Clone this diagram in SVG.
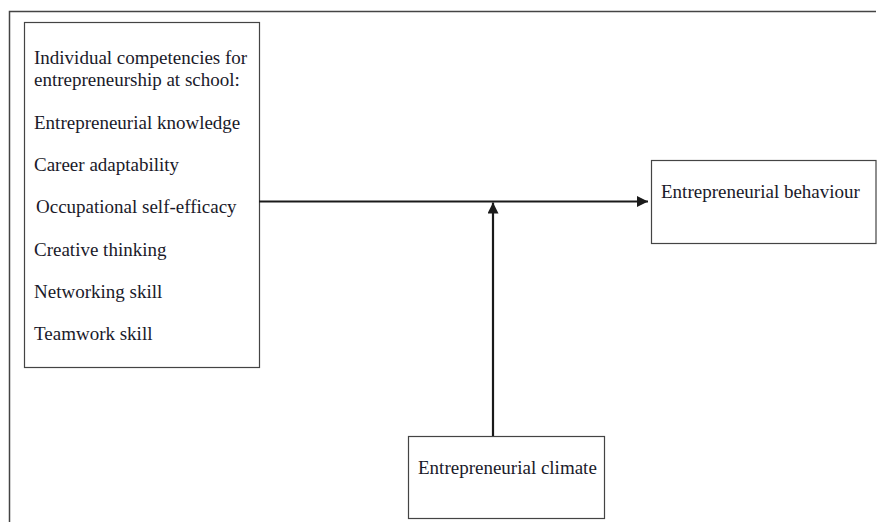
<svg xmlns="http://www.w3.org/2000/svg" width="878" height="522" viewBox="0 0 878 522">
<style>
.box{fill:#fff;stroke:#444;stroke-width:1.2}
.t{font-family:"Liberation Serif","Times New Roman",serif;font-size:19px;fill:#1a1a2a}
.c{stroke:#1a1a1a;stroke-width:2.2;fill:none}
</style>
<defs>
<marker id="ah" viewBox="0 0 10 10" refX="10" refY="5" markerWidth="5" markerHeight="5" orient="auto" markerUnits="strokeWidth">
<path d="M0,0 L10,5 L0,10 z" fill="#1a1a1a"/>
</marker>
</defs>
<rect width="878" height="522" fill="#fff"/>
<g id="frame"><path d="M9.5,522 V11.5 H876" fill="none" stroke="#444" stroke-width="1.5"/></g>
<g id="competencies">
<rect class="box" x="24.5" y="22.5" width="235" height="345"/>
<text class="t" x="34" y="64">Individual competencies for</text>
<text class="t" x="34" y="86">entrepreneurship at school:</text>
<text class="t" x="34" y="129">Entrepreneurial knowledge</text>
<text class="t" x="34" y="171">Career adaptability</text>
<text class="t" x="36" y="213">Occupational self-efficacy</text>
<text class="t" x="34" y="256">Creative thinking</text>
<text class="t" x="34" y="298">Networking skill</text>
<text class="t" x="34" y="340">Teamwork skill</text>
</g>
<g id="behaviour">
<rect class="box" x="651.5" y="160.5" width="224.5" height="83"/>
<text class="t" x="661" y="198">Entrepreneurial behaviour</text>
</g>
<g id="climate">
<rect class="box" x="408.5" y="436.5" width="196" height="82"/>
<text class="t" x="418" y="474">Entrepreneurial climate</text>
</g>
<g id="connectors">
<line class="c" x1="259" y1="201.5" x2="648" y2="201.5" marker-end="url(#ah)"/>
<line class="c" x1="493" y1="436" x2="493" y2="202.5" marker-end="url(#ah)"/>
</g>
</svg>
